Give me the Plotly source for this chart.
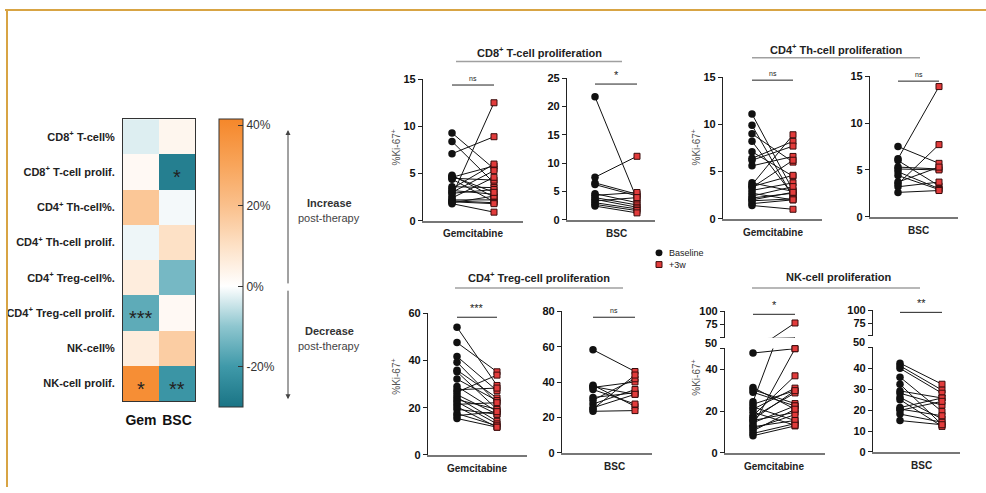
import plotly.graph_objects as go

W, H = 986, 493
def px(x): return x / W
def py(y): return 1 - y / H

# ---------------- data ----------------
hm_rows = ["CD8<sup>+</sup> T-cell%", "CD8<sup>+</sup> T-cell prolif.", "CD4<sup>+</sup> Th-cell%.",
           "CD4<sup>+</sup> Th-cell prolif.", "CD4<sup>+</sup> Treg-cell%.", "CD4<sup>+</sup> Treg-cell prolif.",
           "NK-cell%", "NK-cell prolif."]
hm_cols = ["Gem", "BSC"]
hm_gem = [-3, 2, 18, -1.5, 6, -16, 6, 39]
hm_bsc = [3, -27, -1, 10, -13, 2, 16, -21]
hm_sig_gem = ["", "", "", "", "", "***", "", "*"]
hm_sig_bsc = ["", "*", "", "", "", "", "", "**"]
cbar_ticks = [40, 20, 0, -20]
cbar_labels = ["40%", "20%", "0%", "-20%"]

cd8_gem_base = [9.3, 8.4, 7.1, 4.8, 4.6, 4.5, 4.4, 3.6, 3.4, 3.2, 2.9, 2.6, 2.4, 2.2, 2.1, 2.0, 1.9, 1.8, 4.7, 3.0]
cd8_gem_post = [5.5, 4.0, 8.9, 2.5, 5.8, 4.3, 2.0, 3.5, 6.0, 2.8, 3.3, 12.5, 4.6, 2.2, 1.9, 1.8, 2.6, 0.9, 3.0, 5.3]
cd8_bsc_base = [21.7, 7.5, 6.5, 6.2, 4.6, 4.3, 3.9, 3.6, 3.3, 3.0, 2.7, 2.4]
cd8_bsc_post = [3.6, 11.2, 4.5, 4.2, 3.0, 4.8, 2.6, 2.2, 3.9, 1.9, 1.6, 1.2]
th_gem_base = [11.1, 9.9, 9.0, 8.2, 7.1, 6.4, 6.2, 5.6, 3.8, 3.6, 3.3, 3.0, 2.7, 2.4, 2.2, 1.9, 1.6, 1.4, 3.4, 2.0]
th_gem_post = [3.0, 2.3, 6.0, 2.5, 4.5, 8.2, 7.7, 6.6, 2.9, 8.9, 6.2, 3.8, 2.0, 3.4, 2.7, 2.1, 2.0, 1.0, 4.6, 2.8]
th_bsc_base = [7.5, 6.2, 6.0, 5.3, 5.1, 4.8, 4.4, 3.7, 3.5, 3.2, 2.6]
th_bsc_post = [5.7, 13.9, 3.3, 5.1, 5.0, 3.0, 2.9, 5.3, 7.7, 3.7, 2.8]
treg_gem_base = [54.1, 47.6, 41.7, 39.3, 35.9, 35.2, 32.1, 29.0, 27.6, 26.6, 25.5, 24.4, 23.4, 22.5, 21.4, 20.4, 19.3, 17.5, 16.6, 15.4]
treg_gem_post = [29.4, 35.2, 27.2, 22.1, 24.1, 19.3, 23.0, 18.3, 28.3, 33.8, 17.2, 14.2, 19.3, 13.1, 22.1, 11.7, 17.2, 12.3, 18.3, 11.7]
treg_bsc_base = [58.3, 38.2, 37.5, 37.0, 35.8, 31.3, 29.8, 27.6, 24.8, 23.5, 25.5]
treg_bsc_post = [46.0, 26.3, 33.1, 40.1, 27.6, 34.0, 41.9, 35.8, 44.0, 23.9, 33.1]
nk_gem_base = [47.8, 31.3, 30.2, 29.0, 24.5, 23.3, 22.0, 20.9, 17.8, 17.1, 15.5, 14.4, 13.2, 11.6, 10.5, 9.3, 8.2, 12.5, 19.5, 16.0]
nk_gem_post = [49.9, 20.9, 23.6, 22.5, 78.0, 29.8, 15.5, 31.0, 36.9, 28.7, 19.4, 22.5, 49.9, 18.3, 20.9, 14.0, 12.9, 15.5, 13.2, 29.8]
nk_bsc_base = [42.5, 41.2, 40.0, 35.8, 32.4, 29.2, 28.1, 26.1, 25.0, 21.2, 19.9, 18.1, 15.0, 20.5]
nk_bsc_post = [32.4, 29.6, 28.1, 19.3, 13.0, 25.8, 22.4, 15.8, 12.2, 25.8, 24.2, 14.2, 13.0, 17.3]

group_titles = ["CD8<sup>+</sup> T-cell proliferation", "CD4<sup>+</sup> Th-cell proliferation",
                "CD4<sup>+</sup> Treg-cell proliferation", "NK-cell proliferation"]
ytitle_text = "%Ki-67<sup>+</sup>"
legend_names = ["Baseline", "+3w"]

# ---------------- styles / layout positions ----------------
FONT = "Liberation Sans"
DARK = "#222222"
BASE_COLOR = "#111111"
POST_COLOR = "#E23B3B"
POST_EDGE = "#3a0c0c"

panels = [
    dict(base=cd8_gem_base, post=cd8_gem_post, label="Gemcitabine", x0=423, xc=452, xs=494, x1=523,
         ytop=75, ybot=220, ymax=15, tickvals=[0, 5, 10, 15], ytitle=True, sig="ns", bar=81),
    dict(base=cd8_bsc_base, post=cd8_bsc_post, label="BSC", x0=567, xc=595, xs=637, x1=655,
         ytop=74, ybot=219, ymax=25, tickvals=[0, 5, 10, 15, 20, 25], ytitle=False, sig="*", bar=80),
    dict(base=th_gem_base, post=th_gem_post, label="Gemcitabine", x0=723, xc=752, xs=793, x1=822,
         ytop=73, ybot=218, ymax=15, tickvals=[0, 5, 10, 15], ytitle=True, sig="ns", bar=76),
    dict(base=th_bsc_base, post=th_bsc_post, label="BSC", x0=870, xc=898, xs=939, x1=958,
         ytop=72, ybot=216, ymax=15, tickvals=[0, 5, 10, 15], ytitle=False, sig="ns", bar=77),
    dict(base=treg_gem_base, post=treg_gem_post, label="Gemcitabine", x0=428, xc=457, xs=497, x1=527,
         ytop=315, ybot=460, ymax=60, tickvals=[0, 20, 40, 60], ytitle=True, sig="***", bar=319),
    dict(base=treg_bsc_base, post=treg_bsc_post, label="BSC", x0=562, xc=593, xs=635, x1=652,
         ytop=313, ybot=458, ymax=80, tickvals=[0, 20, 40, 60, 80], ytitle=False, sig="ns", bar=319),
    dict(base=nk_gem_base, post=nk_gem_post, label="Gemcitabine", x0=725, xc=753, xs=795, x1=825,
         ytop=351, ybot=458, ymax=50, tickvals=[0, 20, 40], ytitle=True, sig="*", bar=316,
         upper=dict(ytop=313, ybot=340, tickvals=[50, 75, 100])),
    dict(base=nk_bsc_base, post=nk_bsc_post, label="BSC", x0=873, xc=900, xs=942, x1=960,
         ytop=350, ybot=457, ymax=50, tickvals=[0, 10, 20, 30, 40], ytitle=False, sig="**", bar=314,
         upper=dict(ytop=312, ybot=338, tickvals=[50, 75, 100])),
]

title_specs = [  # (center x, text y, underline y, underline x0, x1)
    (539, 47, 57, 456, 622),
    (836, 44, 53, 752, 920),
    (539, 278, 289, 455, 623),
    (838, 278, 289, 752, 920),
]
ytitle_pos = {0: (396, 145), 2: (696, 145), 4: (396, 380), 6: (696, 381)}

fig = go.Figure()
annotations = []
shapes = []

def ann(**kw):
    kw.setdefault("xanchor", "center")
    kw.setdefault("yanchor", "middle")
    kw.setdefault("showarrow", False)
    annotations.append(kw)

# ---------------- heatmap ----------------
cscale = [
    [0.0, "#1a7485"], [0.14, "#3f99a9"], [0.28, "#8ec6cf"], [0.4196, "#ffffff"],
    [0.5594, "#fde1c6"], [0.699, "#fac08c"], [0.8392, "#f8a55b"], [1.0, "#f5872a"],
]
z = [[g, b] for g, b in zip(hm_gem, hm_bsc)]
fig.add_trace(go.Heatmap(
    z=z, x=hm_cols, y=hm_rows, zmin=-30, zmax=41.5, colorscale=cscale,
    xaxis="x", yaxis="y", hoverinfo="skip",
    colorbar=dict(x=px(219), xanchor="left", xpad=0, y=py(116), yanchor="top", ypad=0,
                  len=288, lenmode="pixels", thickness=24, thicknessmode="pixels",
                  outlinewidth=1, outlinecolor="#333", tickvals=cbar_ticks, ticktext=cbar_labels,
                  ticks="inside", ticklen=5, tickcolor="#333",
                  tickfont=dict(size=12, color="#333", family=FONT)),
))
for i, row in enumerate(hm_rows):
    for col, sig in (("Gem", hm_sig_gem[i]), ("BSC", hm_sig_bsc[i])):
        if sig:
            ann(x=col, y=row, xref="x", yref="y", text=sig,
                font=dict(size=20, color=DARK, family=FONT), yshift=-5)

layout_axes = dict(
    xaxis=dict(domain=[px(123), px(195)], anchor="y", showline=True, mirror=True, linecolor="#333",
               linewidth=1, ticks="", ticklabelstandoff=6,
               tickfont=dict(size=14, color="#111", family=FONT, weight="bold"), fixedrange=True),
    yaxis=dict(domain=[py(405), py(116)], anchor="x", autorange="reversed", showline=True, mirror=True,
               linecolor="#333", linewidth=1, ticks="", ticklabelstandoff=5,
               tickfont=dict(size=11, color=DARK, family=FONT, weight="bold"), fixedrange=True),
)

# colorbar side annotations
annotations += [
    dict(x=px(288), y=py(127), xref="paper", yref="paper", ax=0, ay=155, axref="pixel", ayref="pixel",
         text="", showarrow=True, arrowhead=2, arrowsize=1, arrowwidth=1, arrowcolor="#444"),
    dict(x=px(288), y=py(403), xref="paper", yref="paper", ax=0, ay=-110, axref="pixel", ayref="pixel",
         text="", showarrow=True, arrowhead=2, arrowsize=1, arrowwidth=1, arrowcolor="#444"),
]
ann(x=px(329), y=py(202), xref="paper", yref="paper", text="<b>Increase</b>",
    font=dict(size=11, color="#333", family=FONT))
ann(x=px(329), y=py(217), xref="paper", yref="paper", text="post-therapy",
    font=dict(size=11, color="#444", family=FONT))
ann(x=px(329), y=py(333), xref="paper", yref="paper", text="<b>Decrease</b>",
    font=dict(size=11, color="#333", family=FONT))
ann(x=px(329), y=py(348), xref="paper", yref="paper", text="post-therapy",
    font=dict(size=11, color="#444", family=FONT))

# ---------------- paired panels ----------------
def pair_lines(base, post):
    xs, ys = [], []
    for b, p in zip(base, post):
        xs += [0, 1, None]
        ys += [b, p, None]
    return xs, ys

def yaxis_style(dom, anchor, rng, tickvals, ticktext=None):
    d = dict(domain=dom, anchor=anchor, range=rng, showline=True, linecolor="#222", linewidth=1.2,
             ticks="outside", ticklen=4, tickwidth=1.2, tickcolor="#222", showgrid=False, zeroline=False,
             tickvals=tickvals, tickfont=dict(size=11, color="#111", family=FONT, weight="bold"),
             fixedrange=True)
    if ticktext is not None:
        d["ticktext"] = ticktext
    return d

post_marker = dict(symbol="square", size=6, color=POST_COLOR, line=dict(color=POST_EDGE, width=1))
base_marker = dict(symbol="circle", size=7.5, color=BASE_COLOR)

ax_n = 2
upper_n = 10
for k, p in enumerate(panels):
    unit = p["xs"] - p["xc"]
    xr = [-(p["xc"] - p["x0"]) / unit, 1 + (p["x1"] - p["xs"]) / unit]
    xdom = [px(p["x0"]), px(p["x1"])]
    xa, ya = f"x{ax_n}", f"y{ax_n}"
    layout_axes[f"xaxis{ax_n}"] = dict(domain=xdom, anchor=ya, range=xr, showline=True, linecolor="#777",
                                       linewidth=1.5, ticks="", showticklabels=False, showgrid=False,
                                       zeroline=False, fixedrange=True)
    has_upper = "upper" in p
    if has_upper:
        tv = p["tickvals"] + [50]
        tt = [str(v) for v in p["tickvals"]] + [""]
        layout_axes[f"yaxis{ax_n}"] = yaxis_style([py(p["ybot"]), py(p["ytop"])], xa, [0, 50], tv, tt)
    else:
        layout_axes[f"yaxis{ax_n}"] = yaxis_style([py(p["ybot"]), py(p["ytop"])], xa, [0, p["ymax"]],
                                                  p["tickvals"])

    lx, ly = pair_lines(p["base"], p["post"])
    fig.add_trace(go.Scatter(x=lx, y=ly, mode="lines", line=dict(color="#111", width=1),
                             xaxis=xa, yaxis=ya, showlegend=False, hoverinfo="skip"))
    lim = 50 if has_upper else 1e9
    b_vals = [v for v in p["base"] if v <= lim]
    q_vals = [v for v in p["post"] if v <= lim]
    fig.add_trace(go.Scatter(x=[0] * len(b_vals), y=b_vals, mode="markers", name=legend_names[0],
                             marker=base_marker, xaxis=xa, yaxis=ya, cliponaxis=False, showlegend=False))
    fig.add_trace(go.Scatter(x=[1] * len(q_vals), y=q_vals, mode="markers", name=legend_names[1],
                             marker=post_marker, xaxis=xa, yaxis=ya, cliponaxis=False, showlegend=False))

    if has_upper:
        u = p["upper"]
        uxa, uya = f"x{upper_n}", f"y{upper_n}"
        layout_axes[f"xaxis{upper_n}"] = dict(domain=xdom, anchor=uya, range=xr, visible=False, fixedrange=True)
        layout_axes[f"yaxis{upper_n}"] = yaxis_style([py(u["ybot"]), py(u["ytop"])], uxa, [50, 100],
                                                     u["tickvals"], ["", "75", "100"])
        fig.add_trace(go.Scatter(x=lx, y=ly, mode="lines", line=dict(color="#111", width=1),
                                 xaxis=uxa, yaxis=uya, showlegend=False, hoverinfo="skip"))
        qu = [v for v in p["post"] if v > 50]
        fig.add_trace(go.Scatter(x=[1] * len(qu), y=qu, mode="markers", showlegend=False,
                                 marker=post_marker, xaxis=uxa, yaxis=uya, cliponaxis=False))
        ann(x=px(p["x0"] - 6), y=py((u["ybot"] + p["ytop"]) / 2), xref="paper", yref="paper",
            xanchor="right", text="50", font=dict(size=11, color="#111", family=FONT, weight="bold"))
        upper_n += 1

    # category label
    ann(x=0.5, xref=xa, y=py(p["ybot"] + 6), yref="paper", yanchor="top", text=p["label"],
        font=dict(size=10, color="#222", family=FONT, weight="bold"))
    # significance bracket
    shapes.append(dict(type="line", xref=xa, yref="paper", x0=0, x1=1, y0=py(p["bar"]), y1=py(p["bar"]),
                       line=dict(color="#222", width=1)))
    sig_size = 7 if p["sig"] == "ns" else 11
    ann(x=0.5, xref=xa, y=py(p["bar"] - 1), yref="paper", yanchor="bottom", text=p["sig"],
        font=dict(size=sig_size, color="#222", family=FONT))
    if p["ytitle"]:
        tx, ty = ytitle_pos[k]
        ann(x=px(tx), y=py(ty), xref="paper", yref="paper", text=ytitle_text, textangle=-90,
            font=dict(size=10, color="#555", family=FONT))
    ax_n += 1

# group titles
for (cx, ty, uy, ux0, ux1), t in zip(title_specs, group_titles):
    ann(x=px(cx), y=py(ty), xref="paper", yref="paper", text=t,
        font=dict(size=11, color="#222", family=FONT, weight="bold"))
    shapes.append(dict(type="line", xref="paper", yref="paper", x0=px(ux0), x1=px(ux1), y0=py(uy), y1=py(uy),
                       line=dict(color="#a0a0a0", width=1.5)))

# manual legend (keys + labels)
LEG_X, LEG_Y1, LEG_Y2 = 659, 253, 265
shapes.append(dict(type="circle", xref="paper", yref="paper", x0=px(LEG_X - 3.5), x1=px(LEG_X + 3.5),
                   y0=py(LEG_Y1 + 3.5), y1=py(LEG_Y1 - 3.5), fillcolor=BASE_COLOR, line=dict(width=0)))
shapes.append(dict(type="rect", xref="paper", yref="paper", x0=px(LEG_X - 3), x1=px(LEG_X + 3),
                   y0=py(LEG_Y2 + 3), y1=py(LEG_Y2 - 3), fillcolor=POST_COLOR,
                   line=dict(color=POST_EDGE, width=1)))
ann(x=px(LEG_X + 8), y=py(LEG_Y1), xref="paper", yref="paper", xanchor="left", text=legend_names[0],
    font=dict(size=9, color="#222", family=FONT))
ann(x=px(LEG_X + 8), y=py(LEG_Y2), xref="paper", yref="paper", xanchor="left", text=legend_names[1],
    font=dict(size=9, color="#222", family=FONT))

# gold frame
shapes.append(dict(type="line", xref="paper", yref="paper", x0=px(5), x1=1, y0=py(4), y1=py(4),
                   line=dict(color="#D8A444", width=2)))
shapes.append(dict(type="line", xref="paper", yref="paper", x0=px(7), x1=px(7), y0=py(4), y1=0,
                   line=dict(color="#D8A444", width=2)))

fig.update_layout(
    width=W, height=H, margin=dict(l=0, r=0, t=0, b=0),
    paper_bgcolor="white", plot_bgcolor="rgba(0,0,0,0)",
    font=dict(family=FONT, color=DARK),
    annotations=annotations, shapes=shapes,
    showlegend=False,
    **layout_axes,
)

fig.write_html("out.html")
